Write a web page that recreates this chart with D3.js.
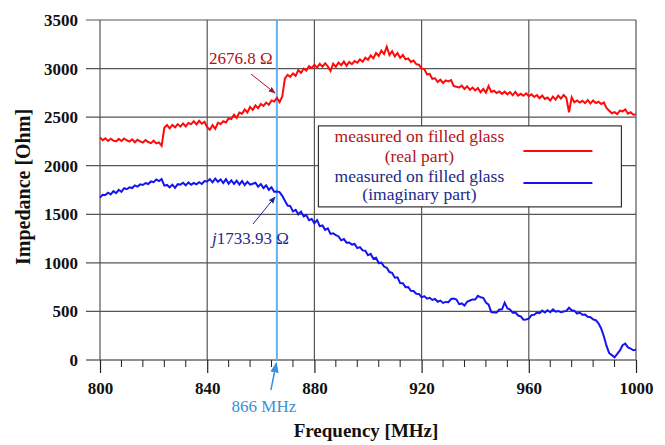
<!DOCTYPE html>
<html>
<head>
<meta charset="utf-8">
<script src="https://cdn.jsdelivr.net/npm/d3@7"></script>
<style>
    body { margin: 0; background: #fff; }
    text { font-family: "Liberation Serif", "Times New Roman", serif; }
</style>
</head>
<body>
<div id="chart"></div>
<script>
// Impedance of filled glass, 800-1000 MHz, sampled every 1 MHz
const frequencies = d3.range(800, 1001, 1);

const realPart = [
    2290, 2262, 2282, 2255, 2278, 2258, 2250, 2276, 2255, 2280,
    2262, 2248, 2272, 2242, 2268, 2250, 2238, 2264, 2244, 2232,
    2258, 2230, 2240, 2205, 2390, 2418, 2385, 2420, 2395, 2428,
    2402, 2435, 2405, 2440, 2428, 2458, 2425, 2462, 2432, 2452,
    2395, 2370, 2418, 2380, 2442, 2430, 2458, 2445, 2490, 2480,
    2525, 2492, 2548, 2535, 2580, 2548, 2605, 2575, 2620, 2592,
    2635, 2615, 2650, 2628, 2672, 2660, 2700, 2655, 2712, 2900,
    2935, 2915, 2950, 2925, 2985, 2955, 3000, 2980, 3025, 3005,
    3040, 3010, 3048, 3020, 3055, 3022, 2975, 3050, 3018, 3062,
    3035, 3072, 3030, 3068, 3045, 3078, 3060, 3095, 3070, 3112,
    3090, 3135, 3105, 3160, 3130, 3185, 3150, 3225, 3140, 3180,
    3125, 3160, 3110, 3140, 3095, 3105, 3068, 3082, 3045, 3040,
    3000, 2995, 2940, 2945, 2895, 2900, 2862, 2885, 2852, 2878,
    2868, 2882, 2820, 2812, 2805, 2825, 2790, 2818, 2782, 2805,
    2775, 2800, 2755, 2790, 2752, 2820, 2760, 2772, 2748, 2765,
    2740, 2762, 2735, 2758, 2725, 2760, 2722, 2740, 2720, 2745,
    2715, 2735, 2708, 2728, 2695, 2722, 2688, 2702, 2670, 2712,
    2680, 2722, 2690, 2728, 2700, 2550, 2705, 2652, 2672, 2650,
    2668, 2645, 2675, 2640, 2672, 2645, 2658, 2635, 2652, 2595,
    2565, 2540, 2552, 2532, 2568, 2560, 2580, 2535, 2550, 2525,
    2530
];

const imagPart = [
    1672, 1700, 1698, 1722, 1705, 1738, 1718, 1752, 1732, 1768,
    1758, 1778, 1770, 1798, 1785, 1808, 1802, 1822, 1812, 1838,
    1830, 1858, 1842, 1862, 1795, 1802, 1778, 1805, 1772, 1810,
    1805, 1825, 1798, 1828, 1805, 1822, 1808, 1830, 1812, 1842,
    1838, 1862, 1828, 1868, 1835, 1858, 1822, 1862, 1815, 1850,
    1812, 1845, 1805, 1842, 1800, 1835, 1805, 1815, 1825, 1785,
    1812, 1770, 1798, 1752, 1778, 1732, 1734, 1728, 1690, 1640,
    1590, 1585, 1530, 1545, 1500, 1528, 1478, 1492, 1440, 1452,
    1408, 1440, 1378, 1385, 1340, 1355, 1298, 1305, 1285, 1272,
    1232, 1245, 1208, 1210, 1188, 1195, 1152, 1162, 1128, 1125,
    1078, 1092, 1042, 1052, 998, 1002, 962, 950, 905, 898,
    848, 852, 792, 790, 750, 752, 712, 710, 682, 680,
    645, 658, 632, 640, 618, 628, 600, 612, 588, 598,
    595, 628, 632, 622, 575, 582, 560, 600, 612, 622,
    622, 660, 645, 640, 592, 570, 492, 488, 488, 520,
    522, 590, 532, 520, 488, 490, 458, 450, 415, 418,
    425, 462, 465, 488, 482, 508, 488, 512, 492, 522,
    498, 505, 492, 500, 505, 538, 512, 508, 478, 488,
    465, 468, 445, 440, 418, 410, 378, 325, 245, 145,
    70, 50, 28, 62, 98, 152, 168, 130, 118, 100,
    105
];

const xTicks = [800, 840, 880, 920, 960, 1000];
const xMinorTicks = d3.range(800, 1001, 8);
const yTicks = [0, 500, 1000, 1500, 2000, 2500, 3000, 3500];
const markerFreq = 866;

const seriesNames = ['measured on filled glass', 'measured on filled glass'];
const seriesSubNames = ['(real part)', '(imaginary part)'];

// annotation arrows: [freq, value] the arrow points to
const realMark = [865.3, 2748];
const imagMark = [865.3, 1678];

function drawChart() {
    const margin = { top: 20, right: 29, bottom: 85, left: 100 };
    const width = 665 - margin.left - margin.right;
    const height = 445 - margin.top - margin.bottom;

    const root = d3.select('#chart').append('svg')
        .attr('width', 665)
        .attr('height', 445);

    const defs = root.append('defs');
    [['arr-red', '#b01020'], ['arr-blue', '#1c2a90'], ['arr-light', '#3a90dd']].forEach(([id, col]) => {
        defs.append('marker')
            .attr('id', id)
            .attr('viewBox', '0 0 10 10')
            .attr('refX', 9).attr('refY', 5)
            .attr('markerWidth', 7).attr('markerHeight', 7)
            .attr('orient', 'auto')
            .append('path')
            .attr('d', 'M0,1 L10,5 L0,9 Z')
            .attr('fill', col);
    });

    const svg = root.append('g')
        .attr('transform', `translate(${margin.left},${margin.top})`);

    const xScale = d3.scaleLinear().domain([800, 1000]).range([0, width]);
    const yScale = d3.scaleLinear().domain([0, 3500]).range([height, 0]);

    // horizontal grid lines, sticking out left of the frame
    svg.append('g').selectAll('line')
        .data(yTicks)
        .join('line')
        .attr('x1', -14).attr('x2', width)
        .attr('y1', d => yScale(d)).attr('y2', d => yScale(d))
        .attr('stroke', d => d === 0 ? '#222' : '#555')
        .attr('stroke-width', 1.2);

    // vertical grid lines
    svg.append('g').selectAll('line')
        .data(xTicks)
        .join('line')
        .attr('x1', d => xScale(d)).attr('x2', d => xScale(d))
        .attr('y1', 0).attr('y2', height)
        .attr('stroke', '#555')
        .attr('stroke-width', 1.2);

    // x axis with major and minor ticks
    const xAxis = svg.append('g')
        .attr('transform', `translate(0,${height})`)
        .call(d3.axisBottom(xScale).tickValues(xTicks).tickSize(13).tickFormat(d3.format('d')));
    xAxis.select('.domain').remove();
    xAxis.selectAll('.tick line').attr('stroke', '#222').attr('stroke-width', 1.2);
    xAxis.selectAll('.tick text')
        .attr('y', 22)
        .attr('dy', '0.71em')
        .style('font-family', '"Liberation Serif", serif')
        .style('font-weight', 'bold')
        .style('font-size', '17px')
        .attr('fill', '#111');

    svg.append('g')
        .attr('transform', `translate(0,${height})`)
        .selectAll('line')
        .data(xMinorTicks.filter(d => !xTicks.includes(d)))
        .join('line')
        .attr('x1', d => xScale(d)).attr('x2', d => xScale(d))
        .attr('y1', 0).attr('y2', 7)
        .attr('stroke', '#222');

    // y tick labels
    svg.append('g').selectAll('text')
        .data(yTicks)
        .join('text')
        .attr('x', -22)
        .attr('y', d => yScale(d))
        .attr('dy', '0.35em')
        .attr('text-anchor', 'end')
        .style('font-weight', 'bold')
        .style('font-size', '17px')
        .attr('fill', '#111')
        .text(d => d);

    // marker line at 866 MHz
    svg.append('line')
        .attr('x1', xScale(markerFreq)).attr('x2', xScale(markerFreq))
        .attr('y1', 0).attr('y2', height)
        .attr('stroke', '#62b0ee')
        .attr('stroke-width', 2);

    // data lines
    const line = d3.line()
        .x((d, i) => xScale(frequencies[i]))
        .y(d => yScale(d));

    svg.append('path')
        .datum(realPart)
        .attr('fill', 'none')
        .attr('stroke', '#ff0a0a')
        .attr('stroke-width', 2)
        .attr('d', line);

    svg.append('path')
        .datum(imagPart)
        .attr('fill', 'none')
        .attr('stroke', '#1414f0')
        .attr('stroke-width', 2)
        .attr('d', line);

    // annotations
    const rx = xScale(realMark[0]), ry = yScale(realMark[1]);
    svg.append('line')
        .attr('x1', rx - 24).attr('y1', ry - 19)
        .attr('x2', rx).attr('y2', ry)
        .attr('stroke', '#b01020').attr('stroke-width', 1)
        .attr('marker-end', 'url(#arr-red)');
    svg.append('text')
        .attr('x', rx - 66).attr('y', ry - 29)
        .style('font-size', '17px')
        .attr('fill', '#b01020')
        .text('2676.8 Ω');

    const ix = xScale(imagMark[0]), iy = yScale(imagMark[1]);
    svg.append('line')
        .attr('x1', ix - 22).attr('y1', iy + 27)
        .attr('x2', ix).attr('y2', iy)
        .attr('stroke', '#1c2a90').attr('stroke-width', 1)
        .attr('marker-end', 'url(#arr-blue)');
    const jt = svg.append('text')
        .attr('x', ix - 63).attr('y', iy + 47)
        .style('font-size', '17px')
        .attr('fill', '#1c2a90');
    jt.append('tspan').style('font-style', 'italic').text('j');
    jt.append('tspan').text('1733.93 Ω');

    // 866 MHz label below the axis
    const mx = xScale(markerFreq);
    svg.append('line')
        .attr('x1', mx - 6).attr('y1', height + 30)
        .attr('x2', mx - 0.5).attr('y2', height + 3)
        .attr('stroke', '#3a90dd').attr('stroke-width', 1.5)
        .attr('marker-end', 'url(#arr-light)');
    svg.append('text')
        .attr('x', mx - 13).attr('y', height + 52)
        .attr('text-anchor', 'middle')
        .style('font-size', '17px')
        .attr('fill', '#3a90dd')
        .text(markerFreq + ' MHz');

    // legend
    const legend = svg.append('g')
        .attr('transform', `translate(${xScale(881.5)},${yScale(2410)})`);
    legend.append('rect')
        .attr('width', 303).attr('height', 81)
        .attr('fill', '#fff')
        .attr('stroke', '#333')
        .attr('stroke-width', 1.2);
    const legendColors = ['#b5121b', '#1a2a8a'];
    const swatchColors = ['#ff0a0a', '#1414f0'];
    seriesNames.forEach((name, i) => {
        legend.append('text')
            .attr('x', 101).attr('y', 16 + i * 40)
            .attr('text-anchor', 'middle')
            .style('font-size', '17.5px')
            .attr('fill', legendColors[i])
            .text(name);
        legend.append('text')
            .attr('x', 101).attr('y', 36 + i * 38)
            .attr('text-anchor', 'middle')
            .style('font-size', '17.5px')
            .attr('fill', legendColors[i])
            .text(seriesSubNames[i]);
        legend.append('line')
            .attr('x1', 205).attr('x2', 274)
            .attr('y1', 25 + i * 32).attr('y2', 25 + i * 32)
            .attr('stroke', swatchColors[i])
            .attr('stroke-width', 2);
    });

    // axis titles
    svg.append('text')
        .attr('x', width / 2 - 2)
        .attr('y', height + 77)
        .attr('text-anchor', 'middle')
        .style('font-weight', 'bold')
        .style('font-size', '19px')
        .attr('fill', '#111')
        .text('Frequency [MHz]');

    svg.append('text')
        .attr('transform', 'rotate(-90)')
        .attr('x', -167)
        .attr('y', -70)
        .attr('text-anchor', 'middle')
        .style('font-weight', 'bold')
        .style('font-size', '20px')
        .attr('fill', '#111')
        .text('Impedance [Ohm]');
}

drawChart();
</script>
</body>
</html>
